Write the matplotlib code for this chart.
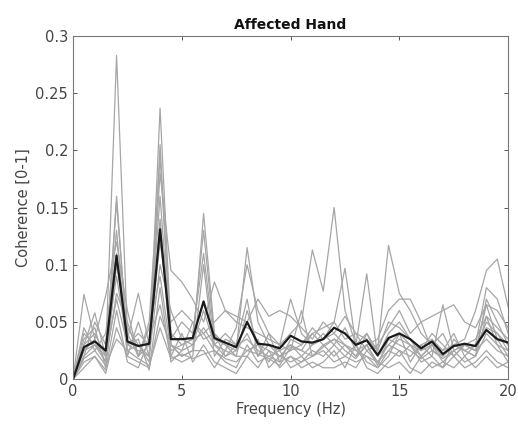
import numpy as np
import matplotlib
matplotlib.use('Agg')
import matplotlib.pyplot as plt

# frequency axis, 0.5 Hz steps
freq = np.arange(0, 20.5, 0.5)

# per-subject coherence (grey lines)
subjects = [
    [0, .030, .040, .020, .283, .040, .020, .030, .160, .030, .025, .030, .060, .030, .020, .025, .040, .020, .030, .025,
     .030, .020, .030, .035, .040, .030, .020, .030, .015, .030, .040, .030, .020, .030, .015, .025, .030, .025, .050, .040, .030],
    [0, .025, .035, .015, .160, .030, .025, .020, .237, .040, .030, .035, .130, .035, .030, .020, .060, .030, .025, .020,
     .030, .025, .040, .030, .035, .030, .025, .020, .015, .025, .035, .030, .025, .030, .020, .030, .025, .020, .040, .030, .025],
    [0, .040, .030, .025, .090, .030, .040, .030, .120, .050, .060, .050, .040, .050, .060, .050, .045, .040, .035, .030,
     .040, .050, .113, .077, .150, .060, .030, .040, .025, .117, .075, .060, .040, .030, .025, .030, .035, .060, .095, .105, .063],
    [0, .020, .050, .030, .130, .025, .030, .015, .205, .030, .020, .025, .145, .040, .030, .025, .115, .050, .030, .020,
     .025, .030, .040, .045, .050, .097, .030, .092, .020, .040, .050, .035, .025, .040, .030, .020, .030, .035, .055, .045, .035],
    [0, .074, .035, .073, .120, .060, .020, .050, .195, .035, .050, .040, .110, .030, .025, .045, .100, .060, .040, .030,
     .070, .040, .030, .040, .030, .045, .025, .030, .035, .060, .070, .070, .050, .025, .020, .030, .025, .030, .080, .070, .040],
    [0, .030, .058, .020, .155, .035, .075, .030, .180, .095, .085, .070, .050, .085, .060, .055, .050, .070, .055, .060,
     .055, .045, .035, .050, .040, .055, .040, .025, .030, .045, .060, .040, .050, .055, .060, .065, .050, .045, .065, .060, .045],
    [0, .045, .025, .040, .110, .020, .050, .020, .140, .020, .015, .020, .100, .020, .035, .030, .070, .020, .040, .015,
     .020, .015, .020, .025, .015, .020, .030, .015, .010, .020, .040, .015, .030, .020, .065, .025, .015, .020, .070, .050, .030],
    [0, .035, .045, .010, .100, .045, .030, .020, .100, .060, .035, .030, .045, .030, .040, .030, .035, .025, .020, .015,
     .035, .030, .045, .035, .050, .035, .040, .035, .025, .050, .045, .035, .020, .030, .040, .020, .030, .025, .065, .035, .020],
    [0, .020, .030, .015, .075, .050, .020, .045, .090, .025, .030, .035, .040, .025, .015, .010, .030, .015, .020, .025,
     .010, .015, .025, .020, .030, .020, .015, .020, .010, .025, .020, .030, .015, .020, .010, .035, .025, .020, .055, .030, .015],
    [0, .025, .030, .020, .070, .030, .035, .008, .080, .015, .025, .050, .035, .040, .020, .030, .025, .030, .015, .030,
     .025, .060, .020, .030, .020, .030, .020, .040, .020, .030, .025, .020, .030, .035, .025, .040, .020, .030, .045, .040, .025],
    [0, .015, .020, .008, .060, .015, .010, .035, .065, .020, .040, .015, .030, .015, .010, .005, .020, .035, .010, .020,
     .015, .020, .010, .015, .025, .010, .030, .010, .005, .015, .025, .010, .005, .015, .010, .020, .010, .015, .025, .015, .010],
    [0, .010, .020, .005, .045, .020, .015, .010, .055, .030, .020, .025, .025, .010, .025, .020, .020, .010, .025, .010,
     .020, .010, .015, .010, .010, .015, .010, .025, .015, .010, .015, .005, .020, .010, .015, .010, .020, .010, .020, .010, .015],
    [0, .018, .025, .012, .035, .025, .018, .012, .045, .018, .022, .018, .022, .025, .018, .015, .025, .022, .018, .012,
     .028, .025, .020, .028, .035, .025, .018, .030, .012, .035, .030, .025, .018, .025, .018, .025, .030, .025, .035, .025, .020],
]

# group average (black line)
mean_coh = [0, .028, .033, .025, .108, .033, .029, .031, .131, .035, .035, .036, .068, .036, .032, .028, .050, .031, .030, .027,
            .038, .033, .032, .035, .045, .040, .030, .034, .021, .036, .040, .035, .027, .033, .022, .029, .031, .029, .043, .035, .032]

fig = plt.figure(figsize=(5.18, 4.28), dpi=100)
ax = fig.add_axes([0.141, 0.114, 0.840, 0.802])

for s in subjects:
    ax.plot(freq, s, color='#a6a6a6', lw=0.9)
ax.plot(freq, mean_coh, color='#1a1a1a', lw=1.6)

ax.set_xlim(0, 20)
ax.set_ylim(0, 0.3)
ax.set_xticks([0, 5, 10, 15, 20])
ax.set_yticks([0, 0.05, 0.1, 0.15, 0.2, 0.25, 0.3])
ax.set_yticklabels(['0', '0.05', '0.1', '0.15', '0.2', '0.25', '0.3'])
ax.tick_params(direction='in', top=True, right=True, length=3, width=0.7,
               colors='#555555', labelsize=10.5, labelcolor='#444444')
for sp in ax.spines.values():
    sp.set_color('#777777')
    sp.set_linewidth(0.8)

ax.set_xlabel('Frequency (Hz)', fontsize=10.5, color='#444444', labelpad=2)
ax.set_ylabel('Coherence [0-1]', fontsize=10.5, color='#444444', labelpad=3)
ax.set_title('Affected Hand', fontsize=10, fontweight='bold', color='#111111', pad=5)

fig.savefig('out.png', dpi=100)
